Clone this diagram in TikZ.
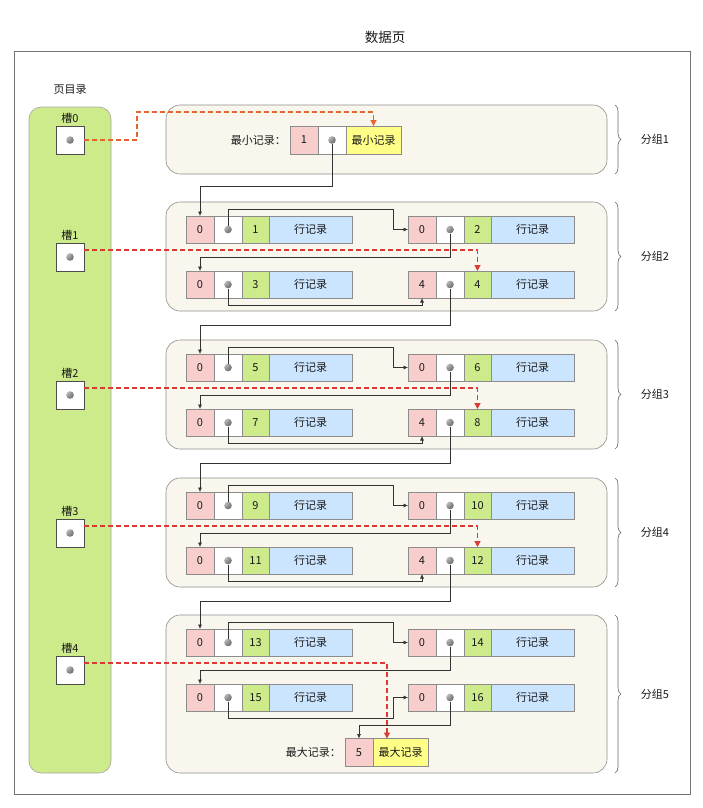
\documentclass[tikz,border=0pt]{standalone}
\usepackage{fontspec}
\setmainfont{Noto Sans CJK SC}
\usetikzlibrary{arrows.meta,positioning,decorations.pathreplacing}
\definecolor{pinkF}{HTML}{F8CECC}
\definecolor{greenF}{HTML}{CDEB8B}
\definecolor{blueF}{HTML}{CCE5FF}
\definecolor{yellowF}{HTML}{FFFF88}
\definecolor{grpF}{HTML}{F9F7ED}
\definecolor{ptrF}{HTML}{D83A34}
\definecolor{ptrO}{HTML}{E8642E}
\newcommand\recrow[5]{%
  \node[pinkcell,anchor=west] (#1-p) at (#2,#3) {#4};
  \node[dotcell,right=0pt of #1-p] (#1-d) {};
  \node[numcell,right=0pt of #1-d] (#1-n) {#5};
  \node[rowcell,right=0pt of #1-n] (#1-r) {行记录};
}

\begin{document}
\begin{tikzpicture}[
  x=1pt,
  y=-1pt,
  frame/.style={draw=black!55,line width=0.8pt},
  dir/.style={fill=greenF,draw=black!35,line width=0.6pt,rounded corners=12pt},
  grp/.style={fill=grpF,draw=black!45,line width=0.6pt,rounded corners=14pt},
  cell/.style={draw=black!45,line width=0.5pt,minimum height=27pt,inner sep=0pt,outer sep=0pt,font=\fontsize{11}{13}\selectfont,text=black!90},
  pinkcell/.style={cell,fill=pinkF,minimum width=28pt},
  dotcell/.style={cell,fill=white,minimum width=28pt,path picture={\shade[ball color=black!50] (path picture bounding box.center) circle (3.8pt);}},
  numcell/.style={cell,fill=greenF,minimum width=27pt},
  rowcell/.style={cell,fill=blueF,minimum width=83pt},
  endcell/.style={cell,fill=yellowF,minimum width=55pt},
  slot/.style={dotcell,draw=black!70,minimum size=28pt},
  lab/.style={font=\fontsize{11}{13}\selectfont,text=black!90,inner sep=1pt},
  ttl/.style={font=\fontsize{13.5}{15}\selectfont,text=black!90},
  brc/.style={decorate,decoration={brace,amplitude=6pt},draw=black!60,line width=0.6pt},
  link/.style={draw=black!80,line width=0.6pt,shorten <=4pt,-{Latex[length=4.5pt,width=4pt]}},
  ptr/.style={draw=ptrF,line width=1.2pt,dash pattern=on 5pt off 3pt,-{Triangle[length=6pt,width=6pt]}}
]
\useasboundingbox (0,0) rectangle (702,808);
\path[frame] (14,51) rectangle (690,794);
\node[ttl] (title) at (385,37) {数据页};
\node[lab] (dirlab) at (70,90) {页目录};
\path[dir] (29,107) rectangle (111,773);
\foreach \k/\y in {0/140,1/257,2/395,3/533,4/670} {
  \node[slot] (s\k) at (70,\y) {};
  \node[lab,above=1pt of s\k] (s\k-lab) {槽\k};
}

\path[grp] (166,105) rectangle (607,174);
\draw[brc] (615,105) -- (615,174);
\node[lab] (grp1) at (655,139.5) {分组1};
\node[pinkcell,anchor=west,minimum height=28pt] (minP) at (290,140) {1};
\node[dotcell,minimum height=28pt,right=0pt of minP] (minD) {};
\node[endcell,minimum height=28pt,right=0pt of minD] (minY) {最小记录};
\node[lab,left=3pt of minP] (minlab) {最小记录：};

\foreach \g/\t/\na/\nb/\nc/\nd in {2/202/1/2/3/4,3/340/5/6/7/8,4/478/9/10/11/12} {
  \path[grp] (166,\t) rectangle (607,\t+109);
  \draw[brc] (615,\t) -- (615,\t+109);
  \node[lab] (grp\g) at (655,\t+54.5) {分组\g};
  \recrow{g\g-a}{186}{\t+27.5}{0}{\na}
  \recrow{g\g-b}{408}{\t+27.5}{0}{\nb}
  \recrow{g\g-c}{186}{\t+82.5}{0}{\nc}
  \recrow{g\g-d}{408}{\t+82.5}{4}{\nd}
}

\path[grp] (166,615) rectangle (607,773);
\draw[brc] (615,615) -- (615,773);
\node[lab] (grp5) at (655,694) {分组5};
\recrow{g5-a}{186}{642.5}{0}{13}
\recrow{g5-b}{408}{642.5}{0}{14}
\recrow{g5-c}{186}{697.5}{0}{15}
\recrow{g5-d}{408}{697.5}{0}{16}
\node[pinkcell,anchor=west,minimum height=28pt] (maxP) at (345,752.5) {5};
\node[endcell,minimum height=28pt,right=0pt of maxP] (maxY) {最大记录};
\node[lab,left=3pt of maxP] (maxlab) {最大记录：};

\draw[link] (minD.center) -- ++(0,46) -| (g2-a-p.north);
\foreach \g in {2,3,4,5} {
  \draw[link] (g\g-a-d.center) -- ++(0,-20.5) -| ([xshift=-15pt]g\g-b-p.west) -- (g\g-b-p.west);
  \draw[link] (g\g-b-d.center) -- ++(0,27.5) -| (g\g-c-p.north);
}
\foreach \g in {2,3,4} {
  \pgfmathtruncatemacro\h{\g+1}
  \draw[link] (g\g-c-d.center) -- ++(0,20.5) -| (g\g-d-p.south);
  \draw[link] (g\g-d-d.center) -- ++(0,40.5) -| (g\h-a-p.north);
}
\draw[link] (g5-c-d.center) -- ++(0,20.5) -| ([xshift=-15pt]g5-d-p.west) -- (g5-d-p.west);
\draw[link] (g5-d-d.center) -- ++(0,27.5) -| (maxP.north);

\draw[ptr,draw=ptrO] (s0.east) -- ++(53,0) |- ([yshift=14pt]minY.north) -- (minY.north);
\foreach \k/\dst in {1/g2-d-n.north,2/g3-d-n.north,3/g4-d-n.north} {
  \draw[ptr] ([yshift=7pt]s\k.east) -| (\dst);
}
\draw[ptr] ([yshift=7pt]s4.east) -| ([xshift=14pt]maxY.north west);
\end{tikzpicture}
\end{document}
